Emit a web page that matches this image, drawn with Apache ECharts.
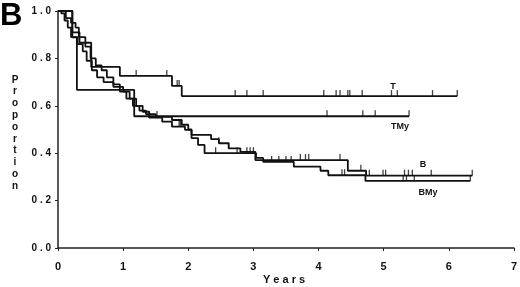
<!DOCTYPE html>
<html>
<head>
<meta charset="utf-8">
<script src="https://cdn.jsdelivr.net/npm/echarts@6/dist/echarts.min.js"></script>
<style>
  html, body { margin: 0; padding: 0; background: #fff; }
  #main { width: 520px; height: 287px; }
</style>
</head>
<body>
<div id="main"></div>
<script>
// survival curves: [years, proportion] at each step
const curveT = [[0, 1], [0.22, 0.91], [0.33, 0.866], [0.51, 0.764], [0.95, 0.726], [1.75, 0.684], [1.9, 0.641], [6.13, 0.641]];
const curveTMy = [[0, 1], [0.22, 0.889], [0.29, 0.667], [1.17, 0.556], [5.39, 0.556]];
const curveB = [[0, 1], [0.12, 0.97], [0.2, 0.95], [0.27, 0.93], [0.32, 0.89], [0.42, 0.85], [0.5, 0.8], [0.58, 0.77],
  [0.67, 0.75], [0.75, 0.72], [0.85, 0.69], [0.95, 0.66], [1.05, 0.63], [1.15, 0.6], [1.25, 0.58], [1.35, 0.565],
  [1.5, 0.553], [1.75, 0.54], [1.9, 0.52], [2.0, 0.5], [2.05, 0.477], [2.35, 0.459], [2.47, 0.442], [2.62, 0.42],
  [2.8, 0.406], [3.03, 0.371], [4.45, 0.326], [4.73, 0.305], [6.36, 0.305]];
const curveBMy = [[0, 1], [0.05, 0.99], [0.1, 0.96], [0.15, 0.93], [0.2, 0.89], [0.3, 0.86], [0.38, 0.83], [0.44, 0.79],
  [0.52, 0.75], [0.6, 0.72], [0.7, 0.7], [0.85, 0.68], [1.0, 0.66], [1.1, 0.63], [1.2, 0.6], [1.3, 0.575],
  [1.4, 0.55], [1.6, 0.533], [1.75, 0.512], [1.95, 0.498], [2.05, 0.464], [2.15, 0.435], [2.25, 0.4], [3.04, 0.38],
  [3.15, 0.363], [3.62, 0.343], [4.03, 0.326], [4.15, 0.307], [4.72, 0.283], [6.33, 0.283]];

// censoring times
const censT = [1.2, 1.67, 1.83, 1.86, 2.72, 2.9, 3.15, 4.08, 4.27, 4.33, 4.45, 4.48, 4.67, 5.12, 5.21, 5.75, 6.13];
const censTMy = [4.13, 4.68, 4.87, 5.39];
const censB = [1.52, 2.47, 2.62, 3.72, 3.8, 3.85, 4.33, 4.65, 4.78, 4.99, 5.03, 5.32, 5.38, 5.44, 5.73, 6.36];
const censBMy = [1.86, 1.88, 2.42, 2.75, 2.9, 2.95, 3.0, 3.28, 3.39, 3.5, 3.58, 4.36, 4.4, 5.3, 5.35, 5.47, 6.33];

const xTicks = [0, 1, 2, 3, 4, 5, 6, 7];
const yTicks = [0, 0.2, 0.4, 0.6, 0.8, 1.0];

const labelFont = 'Liberation Sans';

function levelAt(curve, t) {
  let v = curve[0][1];
  for (const p of curve) if (p[0] <= t) v = p[1];
  return v;
}

function curveSeries(data) {
  return {
    type: 'line', step: 'end', data: data, showSymbol: false, silent: true,
    lineStyle: { color: '#111', width: 1.8 }
  };
}

function censorSeries(curve, times) {
  return {
    type: 'scatter', silent: true,
    data: times.map(t => [t, levelAt(curve, t)]),
    symbol: 'rect', symbolSize: [1.3, 6], symbolOffset: [0, -3],
    itemStyle: { color: '#111' }
  };
}

const chart = echarts.init(document.getElementById('main'));

const option = {
  animation: false,
  grid: { left: 58, right: 4, top: 11, bottom: 39 },
  xAxis: {
    type: 'value', min: 0, max: 7, interval: 1,
    axisLine: { lineStyle: { color: '#222', width: 1.5 } },
    axisTick: { length: 3, lineStyle: { color: '#222' } },
    splitLine: { show: false },
    axisLabel: {
      margin: 13, color: '#111', fontWeight: 'bold', fontSize: 11, fontFamily: labelFont,
      formatter: v => xTicks.includes(v) ? String(v) : ''
    }
  },
  yAxis: {
    type: 'value', min: 0, max: 1, interval: 0.2,
    axisLine: { show: true, lineStyle: { color: '#222', width: 1.5 } },
    axisTick: { show: true, length: 3, lineStyle: { color: '#222' } },
    splitLine: { show: false },
    axisLabel: {
      margin: 7, color: '#111', fontWeight: 'bold', fontSize: 10, fontFamily: labelFont,
      formatter: v => yTicks.some(t => Math.abs(t - v) < 1e-9) ? v.toFixed(1).split('').join(' ') : ''
    }
  },
  series: [
    curveSeries(curveT), curveSeries(curveTMy), curveSeries(curveB), curveSeries(curveBMy),
    censorSeries(curveT, censT), censorSeries(curveTMy, censTMy),
    censorSeries(curveB, censB), censorSeries(curveBMy, censBMy)
  ],
  graphic: [
    { type: 'text', left: 0, top: 1, style: { text: 'B', font: 'bold 31px Liberation Sans', fill: '#000' } },
    { type: 'text', x: 15, y: 74, style: { text: 'Proportion'.split('').join('\n'), font: 'bold 10px Liberation Sans',
      lineHeight: 11.8, fill: '#111', align: 'center', verticalAlign: 'top' } },
    { type: 'text', x: 284, y: 280, style: { text: 'Y e a r s', font: 'bold 11px Liberation Sans',
      fill: '#111', align: 'center', verticalAlign: 'middle' } },
    { type: 'text', x: 393, y: 87, style: { text: 'T', font: 'bold 9px Liberation Sans', fill: '#111', align: 'center', verticalAlign: 'middle' } },
    { type: 'text', x: 400, y: 127, style: { text: 'TMy', font: 'bold 9px Liberation Sans', fill: '#111', align: 'center', verticalAlign: 'middle' } },
    { type: 'text', x: 423, y: 165, style: { text: 'B', font: 'bold 9px Liberation Sans', fill: '#111', align: 'center', verticalAlign: 'middle' } },
    { type: 'text', x: 428, y: 193, style: { text: 'BMy', font: 'bold 9px Liberation Sans', fill: '#111', align: 'center', verticalAlign: 'middle' } }
  ]
};

chart.setOption(option);
</script>
</body>
</html>
